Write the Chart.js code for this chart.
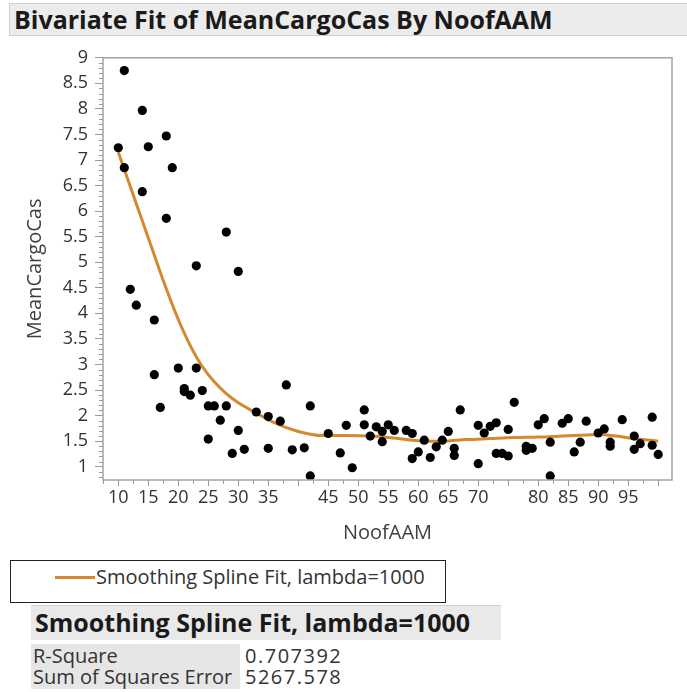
<!DOCTYPE html>
<html>
<head>
<meta charset="utf-8">
<title>Bivariate Fit of MeanCargoCas By NoofAAM</title>
<script src="https://cdn.jsdelivr.net/npm/chart.js@4.4.0/dist/chart.umd.min.js"></script>
<style>
  html, body { margin: 0; padding: 0; background: #fff; }
  body {
    width: 687px; height: 692px; position: relative; overflow: hidden;
    font-family: "Open Sans", "Noto Sans", sans-serif; color: #1a1a1a;
  }
  .outline-title {
    position: absolute; left: 9px; top: 3px; width: 678px; height: 33px;
    box-sizing: border-box; background: #ececec;
    border: 1px solid #d0d0d0; border-right: none;
    font-weight: bold; font-size: 25px; line-height: 30px; padding-left: 4px;
    white-space: nowrap;
  }
  #plotWrap { position: absolute; left: 0; top: 40px; width: 687px; height: 510px; }
  .legend {
    position: absolute; left: 10px; top: 560px; width: 436px; height: 43px;
    box-sizing: border-box; border: 1.5px solid #222;
  }
  .legend .swatch {
    position: absolute; left: 44px; top: 15px; width: 40px; height: 3px; background: #d4892f;
  }
  .legend .txt {
    position: absolute; left: 85px; top: 3px; font-size: 20px; line-height: 26px;
    color: #333; white-space: nowrap;
  }
  .sub-title {
    position: absolute; left: 31px; top: 605px; width: 470px; height: 35px;
    box-sizing: border-box; background: #e9e9e9; border-top: 1px solid #cfcfcf;
    font-weight: bold; font-size: 25px; line-height: 33px; padding-left: 4px;
    white-space: nowrap;
  }
  .stats-labels {
    position: absolute; left: 31px; top: 644px; width: 209px; height: 45px;
    background: #e6e6e6;
  }
  .stats-row {
    position: absolute; font-size: 20px; line-height: 21px; color: #333; white-space: nowrap;
  }
  .stats-row.val { letter-spacing: 1.5px; }
</style>
</head>
<body>

<div class="outline-title">Bivariate Fit of MeanCargoCas By NoofAAM</div>

<div id="plotWrap"><canvas id="fit"></canvas></div>

<div class="legend">
  <div class="swatch"></div>
  <div class="txt">Smoothing Spline Fit, lambda=1000</div>
</div>

<div class="sub-title">Smoothing Spline Fit, lambda=1000</div>
<div class="stats-labels"></div>
<div class="stats-row" style="left:33px; top:645px;">R-Square</div>
<div class="stats-row val" style="left:245px; top:645px;">0.707392</div>
<div class="stats-row" style="left:33px; top:666px;">Sum of Squares Error</div>
<div class="stats-row val" style="left:245px; top:666px;">5267.578</div>

<script>
// observations: NoofAAM vs MeanCargoCas
const noofAAM = [
  10, 11, 11, 12, 13, 14, 14, 15, 16, 16, 17, 18, 18, 19, 20, 21, 21, 22, 23, 23,
  24, 25, 25, 26, 27, 28, 28, 29, 30, 30, 31, 33, 35, 35, 37, 38, 39, 41, 42, 42,
  45, 47, 48, 49, 51, 51, 52, 53, 54, 54, 55, 56, 58, 59, 59, 60, 61, 62, 63, 64,
  65, 66, 66, 67, 70, 70, 71, 72, 73, 73, 74, 75, 75, 76, 78, 78, 79, 80, 81, 82,
  82, 84, 85, 86, 87, 88, 90, 91, 92, 92, 94, 96, 96, 97, 99, 99, 100
];
const meanCargoCas = [
  7.24, 8.75, 6.85, 4.47, 4.16, 7.97, 6.38, 7.26, 3.87, 2.80, 2.16, 7.47, 5.86, 6.85, 2.93, 2.53, 2.47, 2.40, 4.93, 2.93,
  2.49, 2.19, 1.54, 2.19, 1.91, 5.59, 2.19, 1.26, 4.82, 1.71, 1.34, 2.07, 1.98, 1.36, 1.89, 2.60, 1.33, 1.37, 2.19, 0.82,
  1.65, 1.27, 1.81, 0.98, 2.11, 1.82, 1.60, 1.78, 1.69, 1.49, 1.82, 1.71, 1.71, 1.65, 1.16, 1.29, 1.52, 1.18, 1.39, 1.52,
  1.69, 1.36, 1.22, 2.11, 1.81, 1.06, 1.66, 1.79, 1.86, 1.26, 1.26, 1.21, 1.73, 2.26, 1.40, 1.32, 1.36, 1.82, 1.94, 1.48,
  0.82, 1.85, 1.94, 1.29, 1.48, 1.89, 1.66, 1.74, 1.48, 1.40, 1.92, 1.60, 1.34, 1.45, 1.97, 1.42, 1.24
];

// smoothing spline (lambda=1000)
const splineX = [10, 12, 14, 16, 18, 20, 22, 24, 26, 28, 30, 33, 36, 40, 44, 48, 52, 56, 60, 64, 68, 72, 76, 80, 84, 88, 90, 93, 96, 100];
const splineY = [7.15, 6.48, 5.81, 5.14, 4.48, 3.88, 3.37, 2.96, 2.66, 2.43, 2.25, 2.05, 1.86, 1.69, 1.61, 1.61, 1.60, 1.56, 1.51, 1.50, 1.53, 1.55, 1.57, 1.58, 1.60, 1.62, 1.63, 1.60, 1.55, 1.50];

// axis ticks (40, 75 and 100 carry no label)
const xTickValues = [10, 15, 20, 25, 30, 35, 40, 45, 50, 55, 60, 65, 70, 75, 80, 85, 90, 95, 100];
const xTickLabels = ['10', '15', '20', '25', '30', '35', '', '45', '50', '55', '60', '65', '70', '', '80', '85', '90', '95', ''];
const yTickValues = [1, 1.5, 2, 2.5, 3, 3.5, 4, 4.5, 5, 5.5, 6, 6.5, 7, 7.5, 8, 8.5, 9];
const yTickLabels = ['1', '1.5', '2', '2.5', '3', '3.5', '4', '4.5', '5', '5.5', '6', '6.5', '7', '7.5', '8', '8.5', '9'];

const X_MIN = 7.45, X_MAX = 102.3;
const Y_MIN = 0.74, Y_MAX = 9;

const FIT_COLOR = '#d4892f';
const AXIS_COLOR = '#9a9a9a';
const FONT = '"Open Sans", "Noto Sans", sans-serif';

// frame around the plot plus the short minor ticks between labelled ones
const frameAndMinorTicks = {
  id: 'frameAndMinorTicks',
  afterDraw(chart) {
    const { ctx, chartArea: a, scales: { x, y } } = chart;
    ctx.save();
    ctx.strokeStyle = AXIS_COLOR;
    ctx.lineWidth = 1;
    ctx.beginPath();
    for (let v = 7.5; v <= X_MAX; v += 2.5) {
      if (v % 5 === 0) continue;
      const px = Math.round(x.getPixelForValue(v)) + 0.5;
      ctx.moveTo(px, a.bottom);
      ctx.lineTo(px, a.bottom + 4);
    }
    for (let i = 8; i <= 90; i++) {
      if (i % 5 === 0) continue;
      const py = Math.round(y.getPixelForValue(i / 10)) + 0.5;
      ctx.moveTo(a.left - 4, py);
      ctx.lineTo(a.left, py);
    }
    ctx.stroke();
    ctx.lineWidth = 1.5;
    ctx.strokeStyle = '#a4a4a4';
    ctx.strokeRect(a.left, a.top, a.right - a.left, a.bottom - a.top);
    ctx.restore();
  }
};

const points = noofAAM.map((v, i) => ({ x: v, y: meanCargoCas[i] }));
const fitLine = splineX.map((v, i) => ({ x: v, y: splineY[i] }));

new Chart(document.getElementById('fit'), {
  type: 'scatter',
  data: {
    datasets: [
      {
        label: 'MeanCargoCas',
        data: points,
        pointRadius: 4.6,
        pointHoverRadius: 4.6,
        pointBackgroundColor: '#000',
        pointBorderWidth: 0,
        showLine: false
      },
      {
        label: 'Smoothing Spline Fit, lambda=1000',
        data: fitLine,
        showLine: true,
        borderColor: FIT_COLOR,
        borderWidth: 3,
        pointRadius: 0,
        cubicInterpolationMode: 'monotone',
        fill: false
      }
    ]
  },
  options: {
    responsive: true,
    maintainAspectRatio: false,
    animation: false,
    layout: { padding: { top: 13, right: 15, left: 0, bottom: 0 } },
    plugins: {
      legend: { display: false },
      tooltip: { enabled: false }
    },
    scales: {
      x: {
        type: 'linear',
        min: X_MIN,
        max: X_MAX,
        afterBuildTicks(scale) { scale.ticks = xTickValues.map(v => ({ value: v })); },
        afterFit(scale) { scale.height = 70; },
        ticks: {
          autoSkip: false,
          maxRotation: 0,
          padding: 1,
          color: '#333',
          font: { family: FONT, size: 18 },
          callback(value) {
            const i = xTickValues.indexOf(value);
            return i < 0 ? '' : xTickLabels[i];
          }
        },
        grid: { drawOnChartArea: false, tickLength: 6, color: AXIS_COLOR },
        border: { display: false },
        title: {
          display: true,
          text: 'NoofAAM',
          color: '#404040',
          font: { family: FONT, size: 20 },
          padding: { top: 0, bottom: 5 }
        }
      },
      y: {
        type: 'linear',
        min: Y_MIN,
        max: Y_MAX,
        afterBuildTicks(scale) { scale.ticks = yTickValues.map(v => ({ value: v })); },
        afterFit(scale) { scale.width = 103; },
        ticks: {
          autoSkip: false,
          padding: 7,
          color: '#333',
          font: { family: FONT, size: 18 },
          callback(value) {
            const i = yTickValues.indexOf(value);
            return i < 0 ? '' : yTickLabels[i];
          }
        },
        grid: { drawOnChartArea: false, tickLength: 8, color: AXIS_COLOR },
        border: { display: false },
        title: {
          display: true,
          text: 'MeanCargoCas',
          color: '#404040',
          font: { family: FONT, size: 20 },
          padding: { top: 23, bottom: 0 }
        }
      }
    }
  },
  plugins: [frameAndMinorTicks]
});
</script>
</body>
</html>
